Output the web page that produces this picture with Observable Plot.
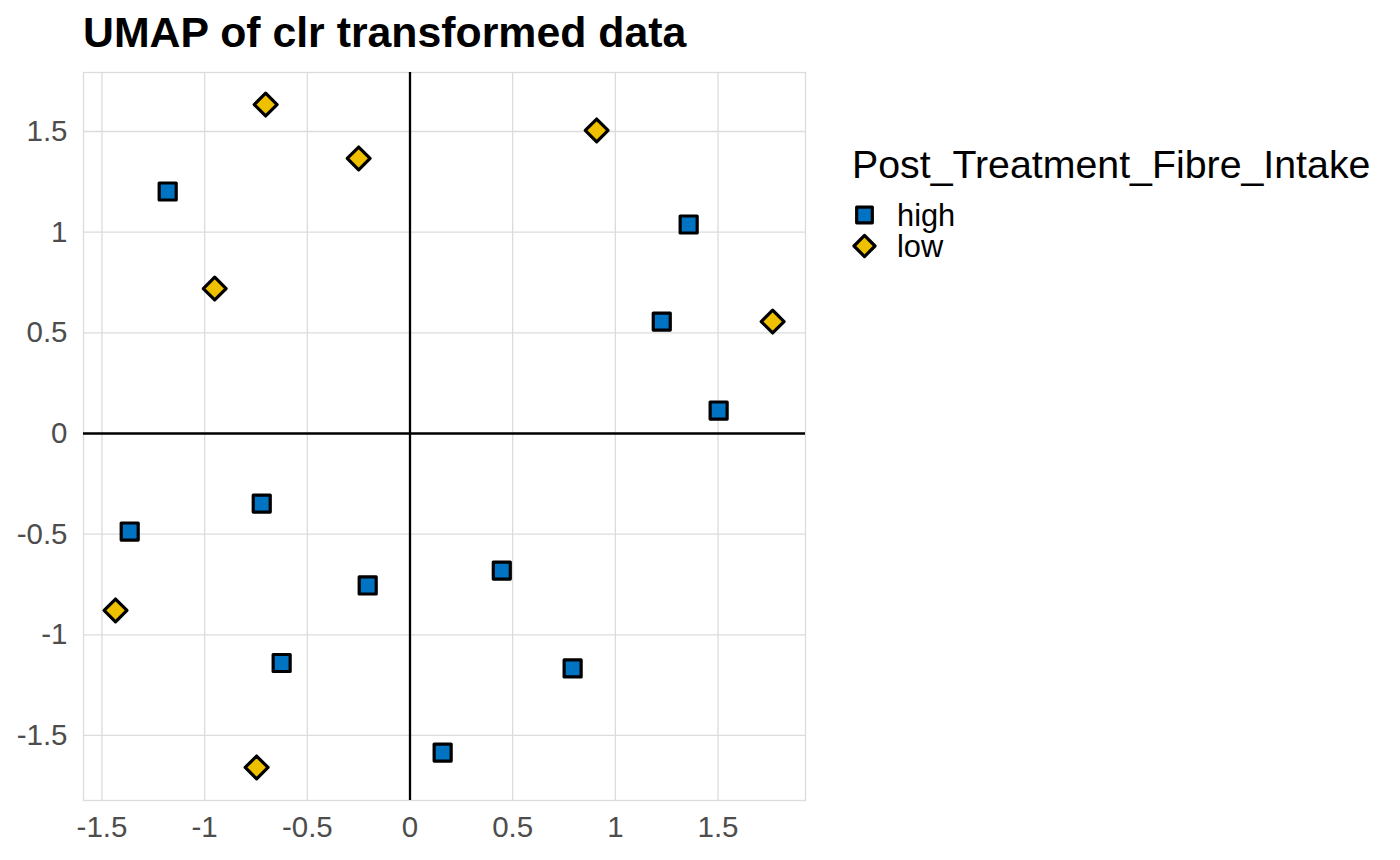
<!DOCTYPE html>
<html>
<head>
<meta charset="utf-8">
<script src="https://cdn.jsdelivr.net/npm/d3@7"></script>
<script src="https://cdn.jsdelivr.net/npm/@observablehq/plot@0.6"></script>
<style>
  html, body { margin: 0; padding: 0; background: #fff; }
  #wrap { position: relative; width: 1400px; height: 860px; font-family: "Liberation Sans", Arial, sans-serif; }
  #wrap > svg { position: absolute; left: 0; top: 0; }
  #overlay { position: absolute; left: 0; top: 0; pointer-events: none; }
</style>
</head>
<body>
<div id="wrap"></div>
<script>
// ---- data ----
const umap1 = [-1.180, 1.357, 1.226, 1.503, -1.365, -0.722, -0.206, 0.447, -0.625, 0.792, 0.159,
               -0.703, -0.250, 0.909, -0.951, 1.766, -1.434, -0.747];
const umap2 = [1.202, 1.038, 0.556, 0.114, -0.487, -0.348, -0.755, -0.681, -1.140, -1.167, -1.585,
               1.634, 1.366, 1.505, 0.720, 0.556, -0.879, -1.659];
const fibre = ["high","high","high","high","high","high","high","high","high","high","high",
               "low","low","low","low","low","low","low"];
const groups = ["high", "low"];
const groupColors = ["#0073C2", "#EFC000"];
const groupSymbols = ["square", "diamond2"];
const xTicks = [-1.5, -1, -0.5, 0, 0.5, 1, 1.5];
const yTicks = [-1.5, -1, -0.5, 0, 0.5, 1, 1.5];
const titleText = "UMAP of clr transformed data";
const legendTitle = "Post_Treatment_Fibre_Intake";

const data = umap1.map((u, i) => ({u1: u, u2: umap2[i], group: fibre[i]}));
const fmt = d => String(d);
const FONT = "'Liberation Sans', Arial, sans-serif";
const symR = {high: 9.6, low: 10.3};
const dotStyle = {x: "u1", y: "u2", symbol: "group", fill: "group", stroke: "black",
                  strokeWidth: 3.2, strokeLinejoin: "round"};

const chart = Plot.plot({
  width: 1400,
  height: 860,
  marginTop: 72,
  marginBottom: 60,
  marginLeft: 83,
  marginRight: 595,
  style: {fontFamily: FONT, background: "white", overflow: "visible"},
  x: {domain: [-1.59, 1.926]},
  y: {domain: [-1.823, 1.793]},
  symbol: {domain: groups, range: groupSymbols},
  color: {domain: groups, range: groupColors},
  marks: [
    Plot.gridX(xTicks, {stroke: "#dcdcdc", strokeOpacity: 1, strokeWidth: 1.3}),
    Plot.gridY(yTicks, {stroke: "#dcdcdc", strokeOpacity: 1, strokeWidth: 1.3}),
    Plot.frame({stroke: "#dcdcdc", strokeWidth: 1.3}),
    Plot.ruleX([0], {stroke: "black", strokeWidth: 2.3}),
    Plot.ruleY([0], {stroke: "black", strokeWidth: 2.3}),
    Plot.axisX(xTicks, {tickSize: 0, tickPadding: 16, fontSize: 29.5, color: "#4d4d4d", tickFormat: fmt, label: null}),
    Plot.axisY(yTicks, {tickSize: 0, tickPadding: 16, fontSize: 29.5, color: "#4d4d4d", tickFormat: fmt, label: null}),
    Plot.dot(data.filter(d => d.group === "high"), {...dotStyle, r: symR.high}),
    Plot.dot(data.filter(d => d.group === "low"), {...dotStyle, r: symR.low})
  ]
});
document.getElementById("wrap").appendChild(chart);

// ---- title & legend overlay ----
const ov = d3.select("#wrap").append("svg").attr("id", "overlay")
  .attr("width", 1400).attr("height", 860).style("font-family", FONT);

ov.append("text").attr("x", 83).attr("y", 47)
  .attr("font-size", 42.8).attr("font-weight", "bold").attr("fill", "black").text(titleText);

ov.append("text").attr("x", 852).attr("y", 178)
  .attr("font-size", 39.3).attr("fill", "black").text(legendTitle);

const sym = d3.scaleOrdinal(groups, [d3.symbolSquare, d3.symbolDiamond2]);
groups.forEach((g, i) => {
  const cy = 215 + i * 31;
  const r = symR[g] * 0.92;
  ov.append("path")
    .attr("d", d3.symbol(sym(g), Math.PI * r * r)())
    .attr("transform", `translate(864.5,${cy})`)
    .attr("fill", groupColors[i]).attr("stroke", "black").attr("stroke-width", 3.2)
    .attr("stroke-linejoin", "round");
  ov.append("text").attr("x", 897).attr("y", cy + 11)
    .attr("font-size", 30.8).attr("fill", "black").text(g);
});
</script>
</body>
</html>
